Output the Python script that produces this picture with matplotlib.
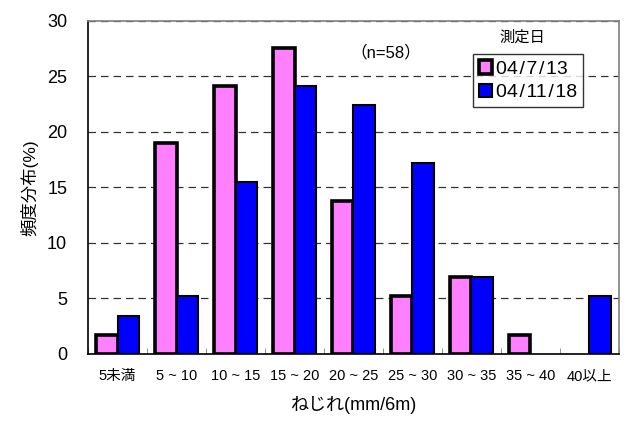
import numpy as np
import matplotlib
matplotlib.use("Agg")
import matplotlib.pyplot as plt

plt.rcParams['font.family'] = ['Liberation Sans', 'Noto Sans CJK JP', 'DejaVu Sans']

categories = ['5未満', '5 ~ 10', '10 ~ 15', '15 ~ 20', '20 ~ 25', '25 ~ 30', '30 ~ 35', '35 ~ 40', '40以上']
series_jul = [1.7, 19.0, 24.1, 27.6, 13.8, 5.2, 6.9, 1.7, 0.0]
series_nov = [3.4, 5.2, 15.5, 24.1, 22.4, 17.2, 6.9, 0.0, 5.2]
labels = ['04\u200a/\u200a7\u200a/\u200a13', '04\u200a/\u200a11\u200a/\u200a18']

fig = plt.figure(figsize=(6.29, 4.28), dpi=100)
ax = fig.add_axes([0.140, 0.173, 0.844, 0.778])

x = np.arange(len(categories))
w = 0.36
# empty classes get no outline
lw_jul = [2.6 if v > 0 else 0 for v in series_jul]
lw_nov = [1.5 if v > 0 else 0 for v in series_nov]
ax.bar(x - w / 2, series_jul, w, color='#ff80ff', edgecolor='black', linewidth=lw_jul,
       label=labels[0], zorder=3)
ax.bar(x + w / 2, series_nov, w, color='#0000ff', edgecolor='black', linewidth=lw_nov,
       label=labels[1], zorder=3)

ax.set_xlim(-0.5, len(categories) - 0.5)
ax.set_ylim(0, 30)
ax.set_yticks(range(0, 31, 5))
ax.yaxis.grid(True, linestyle=(0, (6, 4)), color='#333333', linewidth=0.9, zorder=0)

# category labels centered, small tick marks on the boundaries
ax.set_xticks(x)
ax.set_xticklabels(categories, fontsize=10.5)
ax.tick_params(axis='x', length=0, pad=11)
ax.set_xticks(np.arange(-0.5, len(categories), 1), minor=True)
ax.tick_params(axis='x', which='minor', direction='in', length=4, color='#808080')
ax.tick_params(axis='y', length=0, labelsize=13, pad=15)

for s in ('top', 'right'):
    ax.spines[s].set_color('#808080')
    ax.spines[s].set_linewidth(1.2)
for s in ('left', 'bottom'):
    ax.spines[s].set_color('black')
    ax.spines[s].set_linewidth(1.2)

ax.set_ylabel('頻度分布(%)', fontsize=12.5, labelpad=6)
ax.set_xlabel('ねじれ(mm/6m)', fontsize=13, labelpad=9)

ax.text(0.56, 0.905, '（n=58）', transform=ax.transAxes, fontsize=12, ha='center', va='center')
ax.text(0.818, 0.95, '測定日', transform=ax.transAxes, fontsize=11, ha='center', va='center')

leg = ax.legend(loc='upper left', bbox_to_anchor=(0.725, 0.9), fontsize=14, frameon=True,
                fancybox=False, edgecolor='black', handlelength=0.7, handleheight=0.7,
                handletextpad=0.2, borderpad=0.3, labelspacing=0.3, borderaxespad=0)
leg.get_frame().set_linewidth(1.0)

fig.savefig('out.png', dpi=100)
